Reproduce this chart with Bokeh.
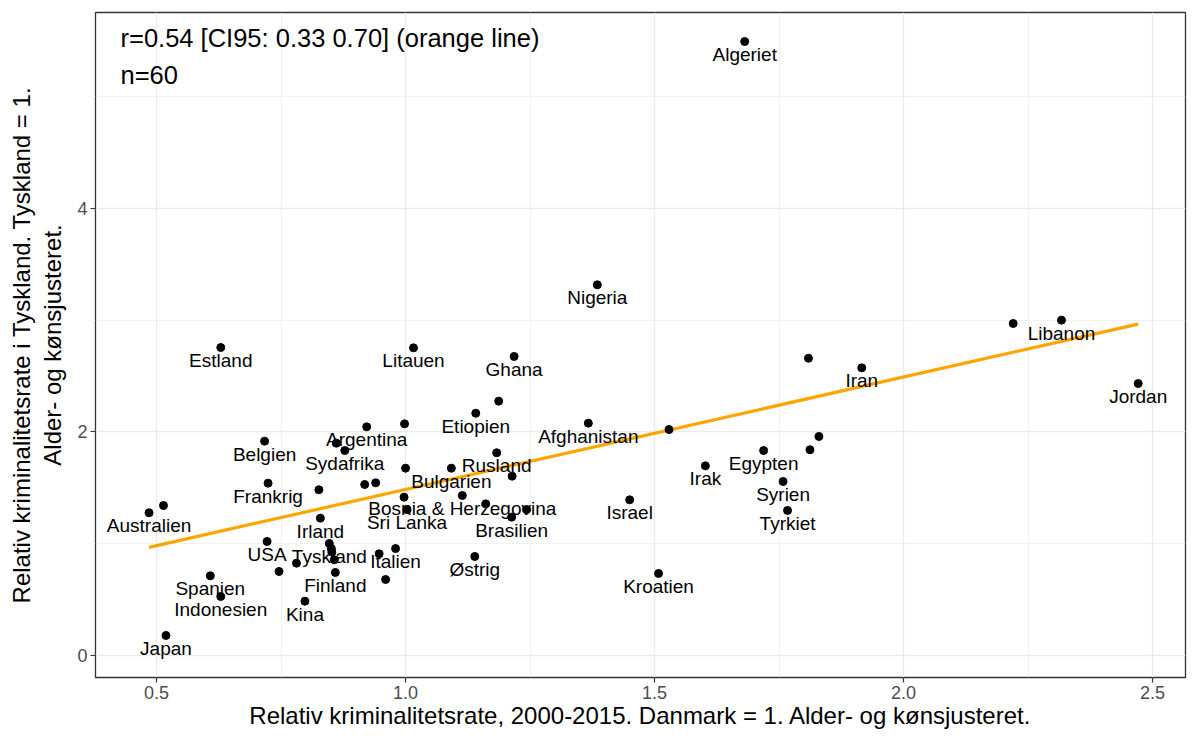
import numpy as np
from bokeh.plotting import figure
from bokeh.models import ColumnDataSource, Range1d, FixedTicker, Label
from bokeh.core.properties import value
from bokeh.embed import file_html
from bokeh.resources import INLINE

# ---- data ----
countries = ["Australien", "", "Belgien", "", "Sydafrika", "Argentina", "Frankrig", "", "", "",
             "Irland", "USA", "Tyskland", "", "", "", "", "", "Finland", "",
             "Italien", "", "Spanien", "Indonesien", "Kina", "Japan", "Litauen", "Ghana", "", "Etiopien",
             "", "", "Bulgarien", "Rusland", "", "", "Bosnia & Herzegovina", "Sri Lanka", "", "",
             "Brasilien", "Østrig", "Nigeria", "Afghanistan", "", "Israel", "Irak", "Kroatien", "", "Iran",
             "", "", "Egypten", "Syrien", "Tyrkiet", "", "Libanon", "Jordan", "Algeriet", "Estland"]
rate_dk = [0.485, 0.514, 0.717, 0.861, 0.878, 0.922, 0.724, 0.826, 0.918, 0.940,
           0.829, 0.722, 0.847, 0.851, 0.852, 0.857, 0.781, 0.746, 0.859, 0.947,
           0.980, 0.960, 0.608, 0.629, 0.798, 0.519, 1.016, 1.218, 1.187, 1.141,
           0.998, 1.000, 1.092, 1.183, 1.214, 0.997, 1.114, 1.003, 1.161, 1.243,
           1.213, 1.139, 1.385, 1.367, 1.529, 1.450, 1.602, 1.508, 1.809, 1.916,
           1.830, 1.812, 1.719, 1.758, 1.767, 2.220, 2.317, 2.471, 1.681, 0.629]
rate_de = [1.277, 1.342, 1.918, 1.900, 1.834, 2.046, 1.542, 1.483, 1.530, 1.545,
           1.229, 1.020, 1.002, 0.957, 0.925, 0.857, 0.826, 0.752, 0.743, 0.910,
           0.957, 0.680, 0.713, 0.528, 0.486, 0.179, 2.753, 2.676, 2.276, 2.168,
           2.073, 1.676, 1.676, 1.814, 1.605, 1.417, 1.432, 1.306, 1.357, 1.306,
           1.238, 0.886, 3.317, 2.079, 2.022, 1.393, 1.697, 0.734, 2.660, 2.574,
           1.960, 1.841, 1.834, 1.557, 1.298, 2.971, 3.001, 2.434, 5.494, 2.756]

x_ticks = [0.5, 1.0, 1.5, 2.0, 2.5]
x_minor = [0.75, 1.25, 1.75, 2.25]
y_ticks = [0, 2, 4]
y_minor = [1, 3, 5]

annot1 = "r=0.54 [CI95: 0.33 0.70] (orange line)"
annot2 = "n=60"
x_title = "Relativ kriminalitetsrate, 2000-2015. Danmark = 1. Alder- og kønsjusteret."
y_title = "Relativ kriminalitetsrate i Tyskland. Tyskland = 1.\nAlder- og kønsjusteret."

FONT = "Liberation Sans"

src = ColumnDataSource(dict(x=rate_dk, y=rate_de, name=countries))

p = figure(width=1192, height=733, output_backend="svg", toolbar_location=None,
           x_range=Range1d(0.3775, 2.566), y_range=Range1d(-0.197, 5.754),
           min_border_left=95, min_border_right=7, min_border_top=12, min_border_bottom=56)

p.background_fill_color = "white"
p.border_fill_color = "white"
p.outline_line_color = "#333333"
p.outline_line_width = 1.3

p.xaxis.ticker = FixedTicker(ticks=x_ticks, minor_ticks=x_minor)
p.yaxis.ticker = FixedTicker(ticks=y_ticks, minor_ticks=y_minor)
p.xaxis.major_label_overrides = {v: f"{v:.1f}" for v in x_ticks}

for ax in (p.xaxis[0], p.yaxis[0]):
    ax.axis_line_color = None
    ax.major_tick_line_color = "#333333"
    ax.major_tick_line_width = 1.2
    ax.major_tick_out = 5
    ax.major_tick_in = 0
    ax.minor_tick_line_color = None
    ax.major_label_text_font = FONT
    ax.major_label_text_font_size = "18px"
    ax.major_label_text_color = "#4D4D4D"
    ax.major_label_standoff = 3
    ax.axis_label_text_font = FONT
    ax.axis_label_text_font_size = "24px"
    ax.axis_label_text_font_style = "normal"
    ax.axis_label_text_color = "black"

p.xaxis.axis_label = x_title
p.xaxis.axis_label_standoff = 0
p.yaxis.axis_label = y_title
p.yaxis.axis_label_standoff = 8
p.yaxis.axis_label_text_line_height = 1.15

for g in (p.xgrid[0], p.ygrid[0]):
    g.grid_line_color = "#EBEBEB"
    g.grid_line_width = 1.3
    g.minor_grid_line_color = "#EBEBEB"
    g.minor_grid_line_width = 0.7

# regression line from the data
xa = np.array(rate_dk)
ya = np.array(rate_de)
slope, intercept = np.polyfit(xa, ya, 1)
lx = np.array([xa.min(), xa.max()])
p.line(lx, intercept + slope * lx, line_color="#FFA500", line_width=3.2)

p.scatter("x", "y", source=src, size=8, color="black")
p.text("x", "y", text="name", source=src, y_offset=13, text_align="center",
       text_baseline="middle", text_font=value(FONT), text_font_size="19px", text_color="black")

p.add_layout(Label(x=0.4277, y=5.53, text=annot1, text_font=FONT, text_font_size="25.5px",
                   text_baseline="middle", text_align="left", text_color="black"))
p.add_layout(Label(x=0.4277, y=5.199, text=annot2, text_font=FONT, text_font_size="25.5px",
                   text_baseline="middle", text_align="left", text_color="black"))

open("out.html", "w").write(file_html(p, INLINE))
